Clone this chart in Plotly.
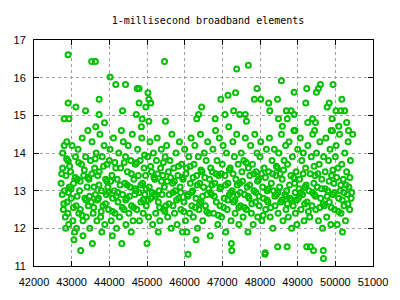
import plotly.graph_objects as go

title_text = "1-millisecond broadband elements"
x_ticks = [42000, 43000, 44000, 45000, 46000, 47000, 48000, 49000, 50000, 51000]
y_ticks = [11, 12, 13, 14, 15, 16, 17]

# upper scattered elements
x_high = [42905, 43530, 43630, 44020, 44170, 44430, 42905, 43110, 43730, 43370, 44350, 43730, 42800, 42930,
          45465, 44740, 44790, 45025, 45050, 45100, 44790, 44970, 44715, 44870, 46450, 46370, 46320, 45490, 45050,
          47380, 47690, 47920, 47350, 47150, 46960, 47850, 48020, 48465, 48230, 48260, 47070, 47300, 47460, 47610, 46810, 47640,
          48568, 49241, 49603, 49551, 49499, 49939, 48905, 49215, 49836, 49784, 50172, 50017, 50146, 50250, 48698, 48827, 48905,
          48491, 48724, 49396, 49913, 49267, 49473, 50300, 50094, 48594, 48930, 49450, 49890, 50350, 50460]
y_high = [16.61, 16.43, 16.43, 16.02, 15.82, 15.82, 15.33, 15.22, 15.43, 15.12, 15.12, 15.02, 14.91, 14.91,
          16.43, 15.71, 15.71, 15.60, 15.43, 15.33, 15.33, 15.22, 15.02, 14.90, 15.22, 15.02, 14.91, 14.84, 14.84,
          16.23, 16.33, 15.71, 15.60, 15.53, 15.43, 15.43, 15.43, 15.43, 15.33, 15.12, 15.02, 15.12, 15.02, 15.02, 14.91, 14.84,
          15.92, 15.71, 15.82, 15.71, 15.61, 15.82, 15.61, 15.33, 15.33, 15.22, 15.43, 15.12, 15.12, 15.12, 15.12, 15.12, 15.02,
          14.91, 14.91, 14.91, 14.91, 14.81, 14.81, 14.81, 14.71, 14.71, 14.60, 14.60, 14.60, 14.60, 14.50]

# main band, x 42700 - 46700
x_main_a = [42720, 42750, 42760, 42780, 42800, 42810, 42830, 42850, 42870, 42880, 42900, 42920, 42940, 42760, 42840, 42900,
            42970, 42990, 43010, 43030, 43050, 43080, 43100, 43120, 43150, 43170, 43190, 43060, 43130,
            43210, 43230, 43260, 43240, 43280, 43300, 43320, 43350, 43370, 43390, 43410, 43430, 43440, 43300,
            43460, 43480, 43500, 43520, 43540, 43570, 43590, 43610, 43630, 43650, 43670, 43690, 43550, 43640,
            43710, 43730, 43750, 43770, 43790, 43810, 43830, 43860, 43880, 43900, 43920, 43940, 43800, 43870,
            43960, 43980, 44000, 44020, 44050, 44070, 44090, 44110, 44130, 44150, 44170, 44190, 44080,
            44210, 44230, 44250, 44270, 44300, 44330, 44350, 44370, 44390, 44410, 44430, 44440, 44320,
            44460, 44480, 44500, 44520, 44550, 44570, 44590, 44610, 44630, 44650, 44670, 44690, 44580,
            44710, 44730, 44750, 44770, 44800, 44820, 44840, 44860, 44880, 44900, 44920, 44940, 44850,
            44960, 44980, 45000, 45020, 45040, 45060, 45080, 45100, 45120, 45150, 45170, 45190,
            45210, 45230, 45250, 45270, 45300, 45320, 45340, 45360, 45380, 45400, 45420, 45440, 45300,
            45460, 45480, 45500, 45520, 45550, 45570, 45590, 45610, 45640, 45660, 45680, 45690,
            45710, 45730, 45750, 45770, 45800, 45820, 45840, 45860, 45880, 45900, 45920, 45940,
            45960, 45980, 46000, 46020, 46050, 46070, 46090, 46110, 46130, 46150, 46170, 46190, 46060,
            46210, 46230, 46250, 46270, 46300, 46320, 46340, 46360, 46380, 46400, 46420, 46440, 46300,
            46460, 46480, 46500, 46520, 46550, 46570, 46590, 46610, 46640, 46660, 46680, 46690]
y_main_a = [13.2, 12.9, 13.6, 12.5, 14.2, 13.0, 12.3, 13.4, 14.3, 12.7, 13.8, 12.1, 13.1, 14.0, 12.0, 12.4,
            13.5, 12.8, 14.2, 12.2, 13.2, 11.9, 13.9, 12.6, 13.3, 14.1, 12.4, 11.7, 12.0,
            13.0, 12.5, 13.7, 11.41, 14.4, 12.2, 13.4, 12.8, 13.9, 12.3, 13.1, 14.6, 12.6, 11.8,
            13.3, 12.0, 13.8, 12.7, 14.3, 12.4, 13.1, 13.6, 12.9, 14.0, 12.2, 13.4, 11.6, 14.7,
            12.8, 13.5, 14.5, 12.3, 13.0, 13.9, 12.6, 14.2, 12.1, 13.3, 12.9, 13.7, 11.9, 14.8,
            13.1, 12.5, 13.8, 14.1, 12.2, 13.4, 12.8, 14.4, 13.0, 12.4, 13.6, 12.0, 11.8,
            13.3, 12.7, 14.0, 12.3, 13.6, 11.6, 12.9, 14.3, 12.5, 13.2, 13.9, 12.1, 14.6,
            12.8, 13.5, 14.2, 12.4, 13.1, 13.8, 12.6, 14.5, 12.2, 13.3, 12.9, 13.7, 11.9,
            13.0, 12.5, 14.1, 13.4, 12.2, 13.8, 12.7, 14.4, 13.2, 12.4, 13.6, 12.9, 14.7,
            13.4, 12.6, 11.6, 13.9, 12.3, 13.1, 14.3, 12.8, 13.5, 12.1, 14.0, 12.9,
            13.3, 12.4, 13.8, 14.4, 12.7, 13.0, 12.2, 13.6, 14.1, 12.9, 13.4, 12.5, 11.9,
            13.1, 13.9, 12.6, 14.2, 12.3, 13.5, 12.9, 13.8, 12.0, 14.5, 13.2, 12.6,
            13.6, 12.4, 13.0, 14.0, 12.1, 13.4, 12.8, 14.3, 13.1, 12.5, 13.7, 11.9,
            13.3, 12.7, 14.1, 12.2, 13.6, 12.9, 11.31, 13.9, 12.4, 13.2, 14.4, 12.6, 11.9,
            13.0, 12.3, 13.7, 14.2, 12.8, 13.4, 12.0, 13.9, 12.5, 13.2, 14.5, 12.7, 11.7,
            13.5, 12.2, 13.1, 14.0, 12.6, 13.8, 12.9, 14.3, 12.4, 13.3, 11.8, 13.6]

# main band, x 46700 - 50450
x_main_b = [46710, 46730, 46750, 46770, 46800, 46820, 46840, 46860, 46880, 46900, 46920, 46940,
            46960, 46980, 47000, 47020, 47050, 47070, 47090, 47110, 47130, 47150, 47170, 47190,
            47210, 47230, 47250, 47240, 47260, 47280, 47300, 47320, 47340, 47360, 47380, 47400, 47420, 47440,
            47460, 47480, 47500, 47520, 47550, 47570, 47590, 47610, 47640, 47660, 47680, 47690,
            47710, 47730, 47750, 47770, 47800, 47820, 47840, 47860, 47880, 47900, 47920, 47940,
            47960, 47980, 48000, 48020, 48050, 48070, 48090, 48110, 48130, 48140, 48150, 48170, 48190,
            48210, 48230, 48250, 48270, 48300, 48320, 48340, 48360, 48380, 48400, 48420, 48440,
            48460, 48470, 48480, 48500, 48520, 48550, 48570, 48590, 48610, 48640, 48660, 48680, 48690,
            48710, 48720, 48730, 48750, 48770, 48800, 48820, 48840, 48860, 48880, 48900, 48920, 48940,
            48960, 48980, 49000, 49020, 49050, 49070, 49090, 49110, 49130, 49150, 49170, 49190,
            49210, 49240, 49250, 49270, 49300, 49320, 49340, 49360, 49380, 49400, 49420, 49430, 49440,
            49460, 49480, 49500, 49520, 49550, 49570, 49590, 49610, 49640, 49660, 49680, 49685, 49690,
            49710, 49730, 49750, 49770, 49800, 49820, 49840, 49860, 49880, 49900, 49920, 49940,
            49960, 49980, 50000, 50020, 50050, 50070, 50090, 50110, 50130, 50150, 50170, 50190,
            50210, 50230, 50250, 50270, 50300, 50320, 50340, 50360, 50380, 50400, 50420]
y_main_b = [12.9, 13.5, 14.1, 12.4, 13.2, 14.6, 12.7, 13.8, 12.1, 13.4, 14.4, 12.6,
            13.1, 12.3, 13.7, 14.2, 12.8, 13.4, 11.9, 14.0, 12.5, 13.2, 14.7, 12.9,
            13.6, 12.2, 11.41, 11.6, 13.0, 14.3, 12.7, 13.9, 12.4, 13.3, 14.5, 12.9, 13.7, 12.1,
            13.2, 12.6, 14.0, 13.5, 12.3, 13.8, 12.9, 14.4, 12.5, 13.1, 11.9, 13.6,
            12.8, 13.4, 14.2, 12.4, 13.7, 12.1, 13.0, 14.5, 12.7, 13.5, 14.0, 12.3,
            13.3, 12.6, 13.9, 14.3, 12.2, 13.1, 12.8, 13.6, 11.31, 11.35, 12.5, 14.1, 13.0,
            12.7, 13.5, 14.4, 12.3, 13.2, 13.8, 12.0, 13.0, 14.1, 12.6, 13.4, 12.9,
            13.6, 11.51, 12.4, 14.0, 13.1, 12.7, 14.5, 13.3, 12.2, 13.8, 12.9, 14.2, 12.5,
            13.0, 11.51, 13.7, 12.3, 14.3, 12.8, 13.4, 12.0, 13.9, 12.6, 14.6, 13.2, 12.4,
            13.5, 12.1, 14.1, 12.8, 13.3, 14.4, 12.5, 13.8, 12.9, 14.0, 12.2, 13.1,
            13.6, 11.51, 12.7, 14.2, 13.0, 12.3, 11.51, 13.9, 12.6, 14.5, 11.41, 13.2, 12.9,
            13.4, 12.5, 14.0, 13.1, 12.2, 13.7, 14.3, 12.8, 13.3, 12.0, 11.41, 11.2, 13.9,
            12.6, 13.5, 14.4, 12.3, 13.0, 13.8, 12.7, 14.1, 12.1, 13.4, 14.6, 12.9,
            13.2, 12.5, 13.9, 14.2, 12.1, 13.6, 12.8, 14.5, 13.0, 12.4, 13.7, 11.9,
            13.3, 12.6, 14.0, 12.2, 13.5, 12.9, 14.3, 13.1, 12.5, 13.8, 12.8]

# additional elements in the dense core of the band
x_core = [42735, 42790, 42865, 42915, 42945, 42985, 43045, 43095, 43145, 43185,
          43225, 43275, 43335, 43385, 43425, 43475, 43535, 43585, 43625, 43685,
          43725, 43785, 43845, 43895, 43935, 43975, 44035, 44085, 44145, 44185,
          44225, 44285, 44345, 44395, 44435, 44475, 44535, 44585, 44645, 44685,
          44725, 44785, 44835, 44895, 44935, 44975, 45035, 45095, 45135, 45185,
          45225, 45285, 45335, 45385, 45435, 45475, 45535, 45585, 45625, 45685,
          45725, 45785, 45835, 45895, 45935, 45975, 46035, 46085, 46145, 46185,
          46225, 46285, 46335, 46395, 46435, 46475, 46535, 46585, 46635, 46685,
          46725, 46785, 46835, 46895, 46935, 46975, 47035, 47085, 47145, 47185,
          47225, 47285, 47335, 47395, 47435, 47475, 47535, 47585, 47635, 47685,
          47725, 47785, 47835, 47895, 47935, 47975, 48035, 48085, 48145, 48185,
          48225, 48285, 48335, 48395, 48435, 48475, 48535, 48585, 48625, 48685,
          48725, 48785, 48835, 48895, 48935, 48975, 49035, 49085, 49145, 49185,
          49225, 49285, 49335, 49395, 49435, 49475, 49535, 49585, 49635, 49675,
          49725, 49785, 49835, 49895, 49935, 49975, 50035, 50085, 50145, 50185,
          50225, 50285, 50335, 50385, 50435]
y_core = [13.45, 12.65, 13.85, 12.95, 13.65, 13.05, 12.55, 13.35, 12.85, 13.75,
          13.25, 12.35, 13.55, 12.75, 13.35, 12.85, 13.45, 12.55, 13.85, 12.75,
          13.15, 12.45, 13.65, 12.65, 13.25, 12.95, 13.25, 12.45, 13.75, 12.85,
          12.95, 13.15, 12.55, 13.75, 12.75, 13.15, 12.85, 13.45, 12.55, 13.05,
          13.75, 12.95, 13.15, 12.75, 13.95, 13.05, 12.75, 13.65, 12.95, 13.35,
          12.85, 13.45, 12.55, 13.25, 13.75, 12.45, 13.25, 12.65, 13.35, 12.95,
          13.25, 12.75, 13.65, 12.95, 13.35, 12.45, 13.45, 12.85, 13.65, 12.95,
          13.35, 12.55, 13.15, 12.65, 13.55, 12.85, 13.35, 12.45, 13.05, 12.95,
          13.15, 12.85, 13.45, 12.35, 13.05, 13.45, 12.55, 13.15, 12.75, 13.55,
          12.95, 13.45, 12.75, 13.15, 12.55, 12.95, 13.25, 12.55, 13.75, 12.85,
          13.15, 12.65, 13.45, 12.95, 13.25, 12.85, 13.45, 12.35, 13.35, 12.75,
          13.05, 12.55, 13.45, 12.85, 13.65, 12.95, 13.45, 12.75, 13.55, 12.85,
          12.65, 13.15, 12.75, 13.35, 12.95, 12.75, 13.05, 12.95, 13.45, 12.65,
          13.15, 12.45, 13.45, 12.95, 13.65, 12.85, 13.45, 12.55, 13.05, 12.65,
          13.05, 12.85, 13.25, 12.55, 13.55, 12.95, 13.35, 12.45, 13.15, 12.75,
          12.95, 13.15, 12.65, 13.35, 12.95]

x_all = x_high + x_main_a + x_main_b + x_core
y_all = y_high + y_main_a + y_main_b + y_core

fig = go.Figure(go.Scatter(
    x=x_all, y=y_all, mode="markers",
    marker=dict(symbol="circle-open", size=5, color="#00c000", line=dict(width=2, color="#00c000")),
    showlegend=False, hoverinfo="skip"))

axis_common = dict(showline=True, linecolor="black", linewidth=1, mirror="ticks",
                   ticks="inside", ticklen=5, tickcolor="black", tickwidth=1,
                   showgrid=True, gridcolor="#a0a0a0", gridwidth=1, griddash="3px,3px",
                   zeroline=False, tickfont=dict(family="Liberation Sans, Arial", size=11, color="black"))

fig.update_xaxes(range=[42000, 51000], tickvals=x_ticks, ticktext=[str(v) for v in x_ticks],
                 ticklabelstandoff=6, **axis_common)
fig.update_yaxes(range=[11, 17], tickvals=y_ticks, ticktext=[str(v) for v in y_ticks],
                 ticklabelstandoff=5, **axis_common)

fig.update_layout(
    width=400, height=300,
    margin=dict(l=34, r=18, t=40, b=27),
    paper_bgcolor="white", plot_bgcolor="white",
    title=dict(text=title_text, x=0.52, xanchor="center", y=0.932, yanchor="middle",
               font=dict(family="DejaVu Sans Mono", size=10, color="black")),
)

fig.write_html("out.html")
